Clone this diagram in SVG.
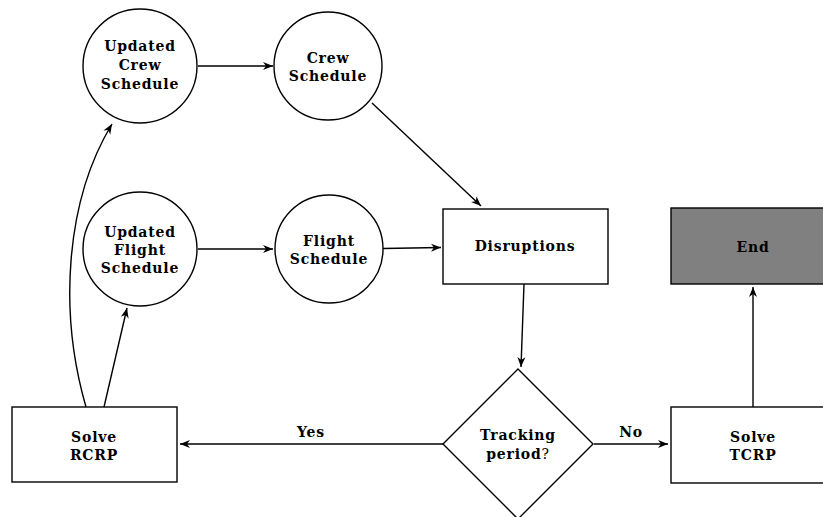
<svg xmlns="http://www.w3.org/2000/svg" width="823" height="517" viewBox="0 0 823 517">
<defs>
<marker id="arr" markerWidth="12" markerHeight="10" refX="10" refY="5" orient="auto" markerUnits="userSpaceOnUse">
<path d="M0,1 L10,5 L0,9 L3,5 Z" fill="#000"/>
</marker>
<style>
.n{fill:#fff;stroke:#000;stroke-width:1.4}
.e{fill:#808080;stroke:#000;stroke-width:1.4}
.t{font-family:"DejaVu Serif","Liberation Serif",serif;font-weight:bold;font-size:14px;letter-spacing:0.8px;text-anchor:middle;fill:#000}
.c{fill:none;stroke:#000;stroke-width:1.4;marker-end:url(#arr)}
.r{font-weight:normal}
</style>
</defs>
<rect width="823" height="517" fill="#fff"/>
<g id="connectors">
<path class="c" d="M198,66 L273,66"/>
<path class="c" d="M198,249 L273,249"/>
<path class="c" d="M372,103 L481,206"/>
<path class="c" d="M383,248.5 L441,247.5"/>
<path class="c" d="M524,284 L521,367"/>
<path class="c" d="M443,444 L180,444"/>
<path class="c" d="M594,444 L668,444"/>
<path class="c" d="M753,407 L753,287"/>
<path class="c" d="M104,407 L127,308"/>
<path class="c" d="M86,407 C58,310 66,200 112,124"/>
<text class="t" x="311" y="437">Yes</text>
<text class="t" x="631" y="437">No</text>
</g>
<g id="updated-crew">
<circle class="n" cx="140" cy="66" r="57"/>
<text class="t" x="140" y="51">Updated</text>
<text class="t" x="140" y="70">Crew</text>
<text class="t" x="140" y="89">Schedule</text>
</g>
<g id="crew">
<circle class="n" cx="328" cy="66" r="54"/>
<text class="t" x="328" y="63">Crew</text>
<text class="t" x="328" y="81">Schedule</text>
</g>
<g id="updated-flight">
<circle class="n" cx="140" cy="249" r="57"/>
<text class="t" x="140" y="237">Updated</text>
<text class="t" x="140" y="255">Flight</text>
<text class="t" x="140" y="273">Schedule</text>
</g>
<g id="flight">
<circle class="n" cx="329" cy="249" r="54"/>
<text class="t" x="329" y="246">Flight</text>
<text class="t" x="329" y="264">Schedule</text>
</g>
<g id="disruptions">
<rect class="n" x="443" y="209" width="165" height="75"/>
<text class="t" x="525" y="251">Disruptions</text>
</g>
<g id="tracking">
<polygon class="n" points="518,369 593,444 518,519 443,444"/>
<text class="t" x="518" y="440">Tracking</text>
<text class="t" x="518" y="459">period<tspan class="r">?</tspan></text>
</g>
<g id="solve-rcrp">
<rect class="n" x="12" y="407" width="165" height="75"/>
<text class="t" x="94" y="442">Solve</text>
<text class="t" x="94" y="460">RCRP</text>
</g>
<g id="solve-tcrp">
<rect class="n" x="671" y="407" width="165" height="76"/>
<text class="t" x="753" y="442">Solve</text>
<text class="t" x="753" y="460">TCRP</text>
</g>
<g id="end">
<rect class="e" x="671" y="208" width="165" height="76"/>
<text class="t" x="753" y="252">End</text>
</g>
</svg>
